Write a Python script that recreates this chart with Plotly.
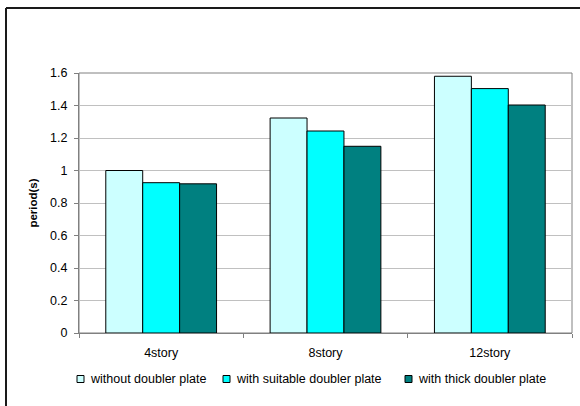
import plotly.graph_objects as go

categories = ["4story", "8story", "12story"]
series_names = ["without doubler plate", "with suitable doubler plate", "with thick doubler plate"]
without_plate = [1.0, 1.323, 1.58]
suitable_plate = [0.925, 1.243, 1.504]
thick_plate = [0.918, 1.149, 1.403]
colors = ["#CCFFFF", "#00FFFF", "#008080"]
y_ticks = [0, 0.2, 0.4, 0.6, 0.8, 1, 1.2, 1.4, 1.6]

FS = 12.5
fig = go.Figure()
for name, vals, col in zip(series_names, [without_plate, suitable_plate, thick_plate], colors):
    fig.add_trace(go.Bar(x=categories, y=vals, name=name, showlegend=False,
                         marker=dict(color=col, line=dict(color="#000000", width=1))))

W, H = 580, 406
L, R, T, B = 79, 8, 73, 73
pw, ph = W - L - R, H - T - B

def px_x(x):
    return (x - L) / pw

def px_y(y):
    return (H - B - y) / ph

shapes = [
    dict(type="rect", xref="paper", yref="paper", x0=0, x1=1, y0=0, y1=1,
         line=dict(color="#808080", width=1), layer="below"),
    # outer chart frame (top and left edges; right/bottom fall outside the crop)
    dict(type="line", xref="paper", yref="paper",
         x0=px_x(6), x1=px_x(W), y0=px_y(8), y1=px_y(8),
         line=dict(color="#1a1a1a", width=2)),
    dict(type="line", xref="paper", yref="paper",
         x0=px_x(6), x1=px_x(6), y0=px_y(8), y1=px_y(H),
         line=dict(color="#1a1a1a", width=2)),
]
annotations = []
legend_x = [77, 223, 405]
legend_y = 379
for name, col, lx in zip(series_names, colors, legend_x):
    shapes.append(dict(type="rect", xref="paper", yref="paper",
                       x0=px_x(lx), x1=px_x(lx + 7), y0=px_y(legend_y + 3.5), y1=px_y(legend_y - 3.5),
                       fillcolor=col, line=dict(color="#000000", width=1)))
    annotations.append(dict(text=name, xref="paper", yref="paper", x=px_x(lx + 11), y=px_y(legend_y),
                            xanchor="left", yanchor="middle", showarrow=False,
                            font=dict(size=FS, color="#000000")))

fig.update_layout(
    template="none",
    width=W, height=H,
    margin=dict(l=L, r=R, t=T, b=B),
    paper_bgcolor="white", plot_bgcolor="white",
    barmode="group", bargap=0.326, bargroupgap=0,
    font=dict(family="Liberation Sans, Arial", size=FS, color="#000000"),
    showlegend=False,
    xaxis=dict(showline=True, linecolor="#808080", linewidth=1, ticks="outside",
               tickson="boundaries", ticklen=4, tickcolor="#808080", mirror=False,
               showgrid=False, zeroline=False,
               tickfont=dict(size=FS), automargin=False, ticklabelstandoff=8),
    yaxis=dict(range=[0, 1.6], tickvals=y_ticks, ticktext=[f"{v:g}" for v in y_ticks],
               showline=True, linecolor="#808080", linewidth=1, ticks="outside",
               ticklen=4, tickcolor="#808080", showgrid=True, gridcolor="#C0C0C0",
               gridwidth=1, zeroline=False, tickfont=dict(size=FS), automargin=False,
               ticklabelstandoff=4,
               title=dict(text="<b>period(s)</b>", font=dict(size=11.5), standoff=10)),
    shapes=shapes,
    annotations=annotations,
)

fig.write_html("out.html", config={"displayModeBar": False},
               post_script="document.body.style.margin='0';document.body.style.overflow='hidden';")
